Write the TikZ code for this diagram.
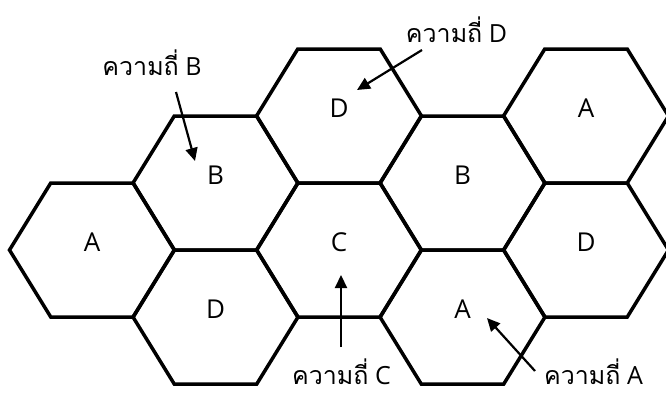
\documentclass[tikz,border=0pt]{standalone}
\usepackage{fontspec}
\setmainfont{Open Sans}
\newfontfamily\thaifont[Script=Thai]{Loma}
\usetikzlibrary{arrows.meta}
\begin{document}
\begin{tikzpicture}[x=1pt,y=-1pt,
  hexline/.style={line width=3.5pt, line join=miter},
  cellname/.style={font=\fontsize{26}{26}\selectfont, anchor=base, inner sep=0pt},
  freqlabel/.style={font=\fontsize{25}{25}\selectfont, anchor=base, inner sep=0pt,
    text depth=0pt},
  pointer/.style={line width=2.2pt, -{Triangle[length=13pt,width=12pt]}},
  pics/hexcell/.style={code={
    \draw[hexline] (-82.5,0) -- (-41.25,-67) -- (41.25,-67) -- (82.5,0)
      -- (41.25,67) -- (-41.25,67) -- cycle;}}
]
\useasboundingbox (0,0) rectangle (666,392);
\clip (0,0) rectangle (666,392);

% cells of the frequency-reuse pattern
\foreach \cx/\cy/\cn/\ct in {92/250/a1/A, 215.5/183/b1/B, 215.5/317/d1/D,
    339/116/d2/D, 339/250/c1/C, 462.5/183/b2/B, 462.5/317/a2/A,
    586/116/a3/A, 586/250/d3/D}{
  \pic at (\cx,\cy) {hexcell};
  \node[cellname] (\cn) at (\cx,\cy+1) {\ct};
}

% frequency labels
\node[freqlabel] (fB) at (152,75)  {{\thaifont ความถี่} B};
\node[freqlabel] (fD) at (456.5,42) {{\thaifont ความถี่} D};
\node[freqlabel] (fC) at (341.5,384.5) {{\thaifont ความถี่} C};
\node[freqlabel] (fA) at (593.5,384.5) {{\thaifont ความถี่} A};

% pointer ends
\coordinate (bTail) at (176,92);  \coordinate (bTip) at (195,161);
\coordinate (dTail) at (422,50);  \coordinate (dTip) at (357,90);
\coordinate (cTail) at (341,347); \coordinate (cTip) at (341,275);
\coordinate (aTail) at (535,371); \coordinate (aTip) at (487,318);

\draw[pointer] (bTail) -- (bTip);
\draw[pointer] (dTail) -- (dTip);
\draw[pointer] (cTail) -- (cTip);
\draw[pointer] (aTail) -- (aTip);
\end{tikzpicture}
\end{document}
